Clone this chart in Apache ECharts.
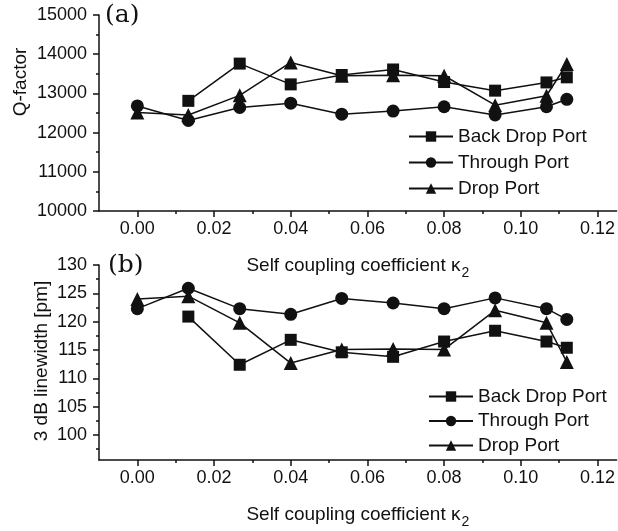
<!DOCTYPE html>
<html>
<head>
<meta charset="utf-8">
<script src="https://cdn.jsdelivr.net/npm/echarts@6/dist/echarts.min.js"></script>
<style>
html,body{margin:0;padding:0;background:#fff;}
#c{width:618px;height:531px;}
</style>
</head>
<body>
<div id="c"></div>
<script>
// ---- data ----
var kappa = [0, 0.0133, 0.0267, 0.04, 0.0533, 0.0667, 0.08, 0.0933, 0.1067, 0.112];
var seriesNames = ['Back Drop Port', 'Through Port', 'Drop Port'];

var qBackDrop = [null, 12810, 13760, 13230, 13470, 13610, 13290, 13070, 13280, 13410];
var qThrough  = [12680, 12310, 12640, 12750, 12470, 12550, 12660, 12450, 12660, 12850];
var qDrop     = [12510, 12450, 12950, 13790, 13450, 13460, 13450, 12700, 12940, 13750];

var lwBackDrop = [null, 120.9, 112.4, 116.8, 114.6, 113.8, 116.5, 118.4, 116.5, 115.4];
var lwThrough  = [122.3, 125.9, 122.3, 121.3, 124.1, 123.3, 122.3, 124.2, 122.3, 120.4];
var lwDrop     = [124.0, 124.5, 119.8, 112.7, 115.1, 115.2, 115.1, 122.0, 119.8, 112.9];

var xMajorTicks = [0, 0.02, 0.04, 0.06, 0.08, 0.10, 0.12];
var xMinorTicks = [0.01, 0.03, 0.05, 0.07, 0.09, 0.11];
var lwMajorTicks = [100, 105, 110, 115, 120, 125, 130];
var lwMinorTicks = [97.5, 102.5, 107.5, 112.5, 117.5, 122.5, 127.5];

// ---- helpers ----
function pairs(xs, ys) {
  var out = [];
  for (var i = 0; i < xs.length; i++) {
    if (ys[i] !== null) out.push([xs[i], ys[i]]);
  }
  return out;
}
var FONT = '"Liberation Sans", Arial, sans-serif';
var INK = '#111';
var symbols = ['rect', 'circle', 'triangle'];
var symSizes = [12, 13, 14];

function mkSeries(name, idx, grid, data) {
  return {
    type: 'line', name: name, xAxisIndex: grid * 2, yAxisIndex: grid * 2,
    data: pairs(kappa, data), symbol: symbols[idx], symbolSize: symSizes[idx],
    showAllSymbol: true, connectNulls: false,
    lineStyle: {color: INK, width: 1.5}, itemStyle: {color: INK},
    emphasis: {disabled: true}, animation: false
  };
}

var xTitle = {
  name: '{t|Self coupling coefficient \u03ba}{s|2}',
  nameLocation: 'middle', nameGap: 41,
  nameTextStyle: {
    rich: {
      t: {fontSize: 19, fontFamily: FONT, color: INK, lineHeight: 28},
      s: {fontSize: 14, fontFamily: FONT, color: INK, lineHeight: 14, padding: [14, 0, 0, 1]}
    }
  }
};

function xMajor(grid) {
  return Object.assign({
    type: 'value', gridIndex: grid, min: -0.01, max: 0.125, position: 'bottom',
    axisLine: {show: true, onZero: false, lineStyle: {color: INK, width: 1.5}},
    axisTick: {show: true, customValues: xMajorTicks, length: 6, lineStyle: {color: INK, width: 1.5}},
    axisLabel: {customValues: xMajorTicks, formatter: function (v) { return v.toFixed(2); },
      fontSize: 18, fontFamily: FONT, color: INK, margin: 9},
    splitLine: {show: false}
  }, xTitle);
}
function xMinor(grid) {
  return {
    type: 'value', gridIndex: grid, min: -0.01, max: 0.125, position: 'bottom',
    axisLine: {show: false, onZero: false},
    axisTick: {show: true, customValues: xMinorTicks, length: 3, lineStyle: {color: INK, width: 1.5}},
    axisLabel: {show: false}, splitLine: {show: false}
  };
}
function plain(v) { return String(v); }

var option = {
  backgroundColor: '#fff',
  animation: false,
  grid: [
    {left: 99, right: 0, top: 15, height: 196},
    {left: 99, right: 0, top: 265, height: 195}
  ],
  xAxis: [xMajor(0), xMinor(0), xMajor(1), xMinor(1)],
  yAxis: [
    {
      type: 'value', gridIndex: 0, min: 10000, max: 15000, interval: 1000, position: 'left',
      axisLine: {show: true, onZero: false, lineStyle: {color: INK, width: 1.5}},
      axisTick: {show: true, length: 6, lineStyle: {color: INK, width: 1.5}},
      minorTick: {show: true, splitNumber: 2, length: 3, lineStyle: {color: INK, width: 1.5}},
      axisLabel: {fontSize: 18, fontFamily: FONT, color: INK, margin: 12, formatter: plain},
      splitLine: {show: false}
    },
    {
      type: 'value', gridIndex: 0, min: 10000, max: 15000, show: false, position: 'left',
      axisLine: {onZero: false}
    },
    {
      type: 'value', gridIndex: 1, min: 95.6, max: 130, position: 'left',
      axisLine: {show: true, onZero: false, lineStyle: {color: INK, width: 1.5}},
      axisTick: {show: true, customValues: lwMajorTicks, length: 6, lineStyle: {color: INK, width: 1.5}},
      axisLabel: {customValues: lwMajorTicks, fontSize: 18, fontFamily: FONT, color: INK, margin: 12, formatter: plain},
      splitLine: {show: false}
    },
    {
      type: 'value', gridIndex: 1, min: 95.6, max: 130, position: 'left',
      axisLine: {show: false, onZero: false},
      axisTick: {show: true, customValues: lwMinorTicks, length: 3, lineStyle: {color: INK, width: 1.5}},
      axisLabel: {show: false}, splitLine: {show: false}
    }
  ],
  legend: [
    {
      data: seriesNames, orient: 'vertical', left: 403, top: 121,
      itemWidth: 44, itemHeight: 13, itemGap: 5,
      textStyle: {fontSize: 19, fontFamily: FONT, color: INK, lineHeight: 21},
      selectedMode: false
    },
    {
      data: seriesNames, orient: 'vertical', left: 423, top: 381,
      itemWidth: 44, itemHeight: 13, itemGap: 3.5,
      textStyle: {fontSize: 19, fontFamily: FONT, color: INK, lineHeight: 21},
      selectedMode: false
    }
  ],
  graphic: [
    {type: 'text', left: 105, top: 3, style: {text: '(a)', font: '25px "DejaVu Serif", serif', fill: INK}},
    {type: 'text', left: 108, top: 253, style: {text: '(b)', font: '25px "DejaVu Serif", serif', fill: INK}},
    {type: 'text', x: 21, y: 82, rotation: Math.PI / 2,
      style: {text: 'Q-factor', font: '19px ' + FONT, fill: INK, align: 'center', verticalAlign: 'middle',
        textAlign: 'center', textVerticalAlign: 'middle'}},
    {type: 'text', x: 42, y: 361, rotation: Math.PI / 2,
      style: {text: '3 dB linewidth [pm]', font: '19px ' + FONT, fill: INK, align: 'center', verticalAlign: 'middle',
        textAlign: 'center', textVerticalAlign: 'middle'}}
  ],
  series: [
    mkSeries(seriesNames[0], 0, 0, qBackDrop),
    mkSeries(seriesNames[1], 1, 0, qThrough),
    mkSeries(seriesNames[2], 2, 0, qDrop),
    mkSeries(seriesNames[0], 0, 1, lwBackDrop),
    mkSeries(seriesNames[1], 1, 1, lwThrough),
    mkSeries(seriesNames[2], 2, 1, lwDrop)
  ]
};

var chart = echarts.init(document.getElementById('c'), null, {renderer: 'canvas'});
chart.setOption(option);
</script>
</body>
</html>
